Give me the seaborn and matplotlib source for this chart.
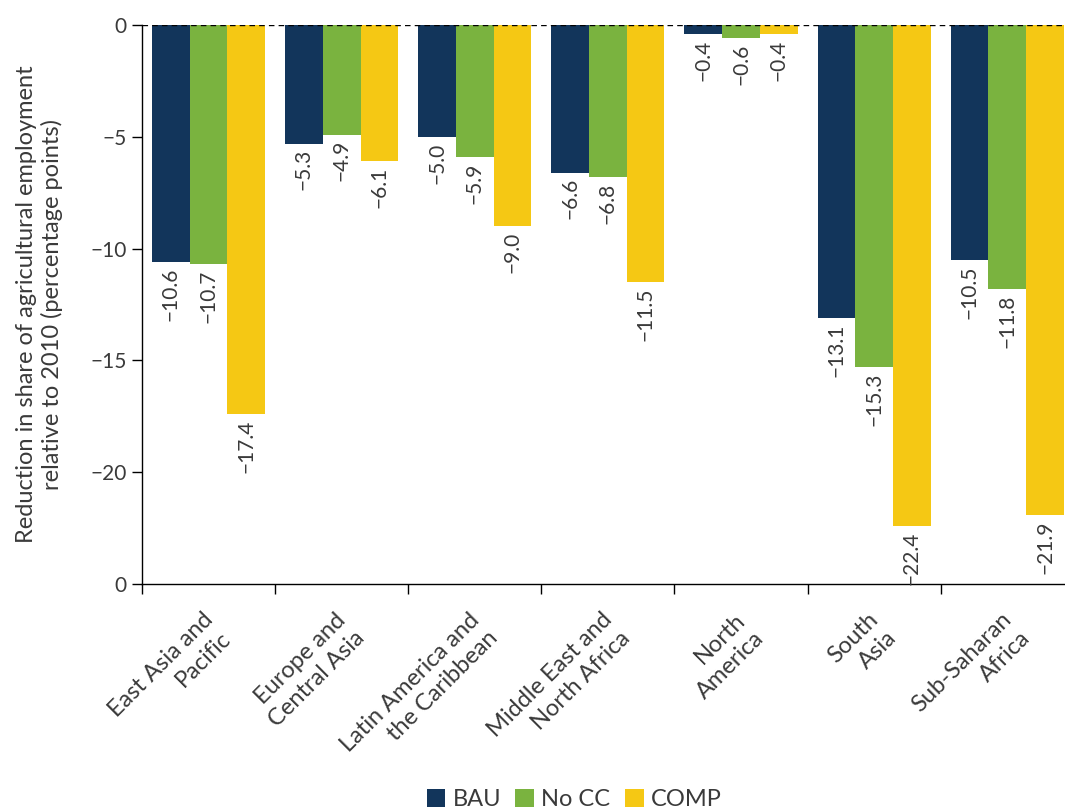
import pandas as pd
import seaborn as sns
import matplotlib.pyplot as plt
import matplotlib.transforms as mtransforms
from matplotlib.patches import Patch
from matplotlib.ticker import FixedLocator

# data
regions = ["East Asia and\nPacific", "Europe and\nCentral Asia", "Latin America and\nthe Caribbean",
           "Middle East and\nNorth Africa", "North\nAmerica", "South\nAsia", "Sub-Saharan\nAfrica"]
scenarios = ["BAU", "No CC", "COMP"]
bau = [-10.6, -5.3, -5.0, -6.6, -0.4, -13.1, -10.5]
no_cc = [-10.7, -4.9, -5.9, -6.8, -0.6, -15.3, -11.8]
comp = [-17.4, -6.1, -9.0, -11.5, -0.4, -22.4, -21.9]
colors = ["#12355b", "#7ab33f", "#f5c814"]
ytick_vals = [0, -5, -10, -15, -20, -25]
ytick_labels = ["0", "\u22125", "\u221210", "\u221215", "\u221220", "0"]

rows = []
for s, vals in zip(scenarios, [bau, no_cc, comp]):
    for r, v in zip(regions, vals):
        rows.append({"region": r, "scenario": s, "value": v})
df = pd.DataFrame(rows)

sns.set_style("white")
plt.rcParams["font.family"] = ["Lato", "DejaVu Sans"]
text_col = "#3a3a3a"

fig = plt.figure(figsize=(10.65, 8.09), dpi=100)
ax = fig.add_axes([0.1333, 0.278, 0.875, 0.691])

sns.barplot(data=df, x="region", y="value", hue="scenario", order=regions, hue_order=scenarios,
            palette=colors, saturation=1, width=0.85, legend=False, linewidth=0, ax=ax)

# rotated value labels under each bar end
for cont in ax.containers:
    ax.bar_label(cont, labels=[f"{v:.1f}".replace("-", "\u2212") for v in cont.datavalues],
                 rotation=90, padding=4, fontsize=15, color=text_col)

ax.axhline(0, color="black", lw=1, linestyle=(0, (4, 3)), zorder=5)

ax.set_ylim(-25, 0)
ax.set_xlim(-0.5, 6.5)
ax.set_yticks(ytick_vals)
ax.set_yticklabels(ytick_labels)
ax.tick_params(axis="y", direction="out", length=7, width=1, color="black", labelsize=15,
               labelcolor=text_col, left=True, pad=4)

ax.set_xticks(range(len(regions)))
ax.set_xticklabels(regions, rotation=45, ha="right", va="center", rotation_mode="anchor",
                   multialignment="right", fontsize=17, color=text_col, linespacing=1.3)
ax.tick_params(axis="x", which="major", length=0, pad=30)
shift = mtransforms.ScaledTranslation(10 / 100, 0, fig.dpi_scale_trans)
for lab in ax.get_xticklabels():
    lab.set_transform(lab.get_transform() + shift)
ax.xaxis.set_minor_locator(FixedLocator([i - 0.5 for i in range(len(regions) + 1)]))
ax.tick_params(axis="x", which="minor", direction="out", length=7, width=1, color="black", bottom=True)

for sp in ["top", "right"]:
    ax.spines[sp].set_visible(False)
for sp in ["left", "bottom"]:
    ax.spines[sp].set_color("black")
    ax.spines[sp].set_linewidth(1)

ax.set_xlabel("")
ax.set_ylabel("Reduction in share of agricultural employment\nrelative to 2010 (percentage points)",
              fontsize=17, color=text_col, labelpad=20)

handles = [Patch(facecolor=c, edgecolor="none") for c in colors]
fig.legend(handles, scenarios, loc="lower center", bbox_to_anchor=(0.539, -0.028), ncol=3, frameon=False,
           fontsize=17, handlelength=0.8, handleheight=0.8, handletextpad=0.3, columnspacing=0.6,
           labelcolor=text_col)

fig.savefig("out.png", dpi=100)
